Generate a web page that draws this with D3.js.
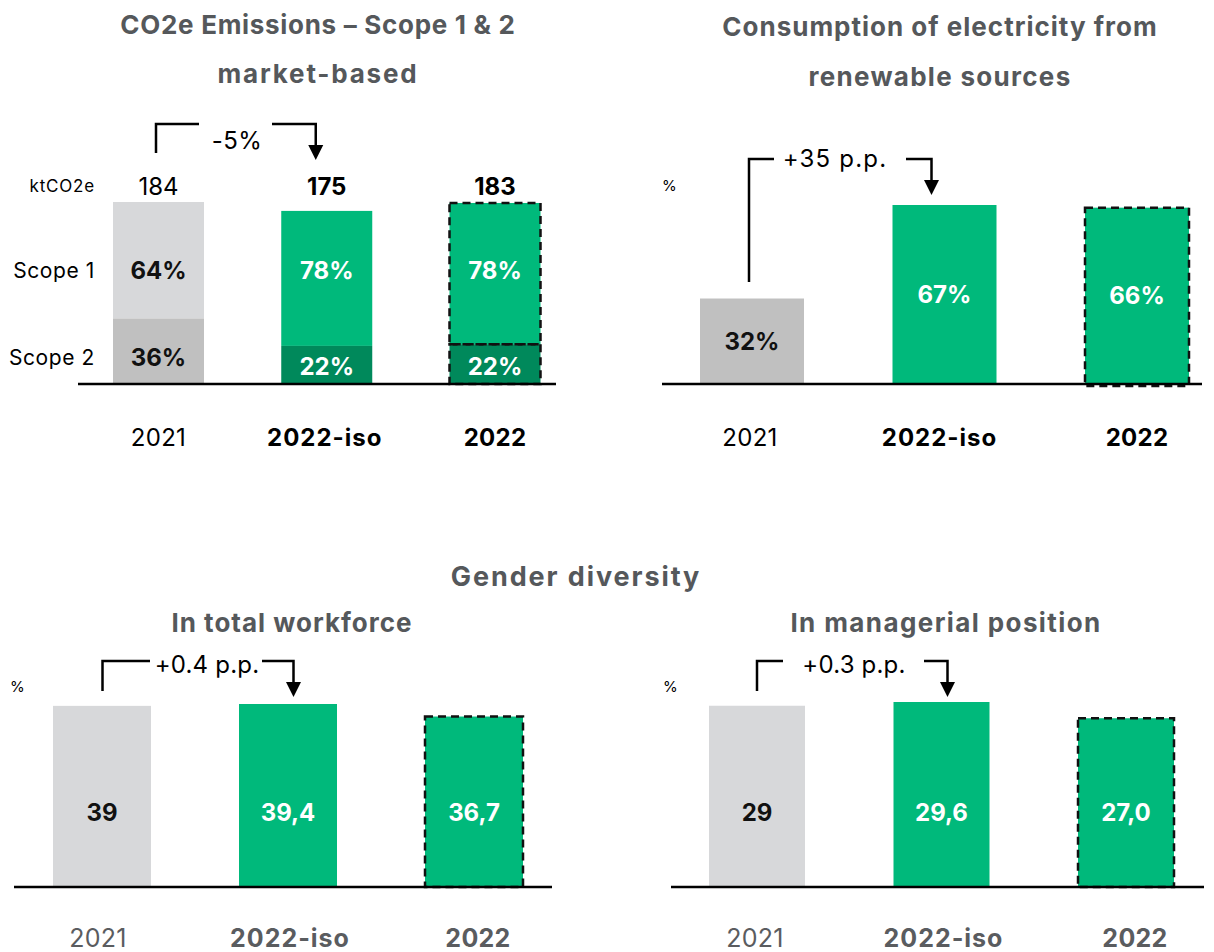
<!DOCTYPE html>
<html><head><meta charset="utf-8">
<script src="https://cdn.jsdelivr.net/npm/d3@7"></script>
<style>
body{margin:0;background:#fff}
svg{display:block}
text{font-family:Inter,"Open Sans",sans-serif}
</style>
</head><body>
<svg id="c" width="1214" height="952"></svg>
<script>
// ---------- data ----------
const categories = ["2021", "2022-iso", "2022"];
const emissionsTotal = [184, 175, 183];
const scope1Share = [64, 78, 78];
const scope2Share = [36, 22, 22];
const scopeNames = ["Scope 1", "Scope 2"];
const renewableShare = [32, 67, 66];
const workforceShare = [39, 39.4, 36.7];
const workforceLabels = ["39", "39,4", "36,7"];
const managerialShare = [29, 29.6, 27.0];
const managerialLabels = ["29", "29,6", "27,0"];
const deltaLabels = ["-5%", "+35 p.p.", "+0.4 p.p.", "+0.3 p.p."];
const titleEmissions = ["CO2e Emissions – Scope 1 & 2", "market-based"];
const titleRenewable = ["Consumption of electricity from", "renewable sources"];
const titleGender = "Gender diversity";
const subtitleGender = ["In total workforce", "In managerial position"];
const unitLabels = ["ktCO2e", "%"];

// ---------- styles ----------
const GREEN = "#00b97b", DGREEN = "#00895b", LGRAY = "#d7d8da", MGRAY = "#c0c0c0";
const TITLE = "#55585b", BOTTOMCAT = "#5a5c5f";
const svg = d3.select("#c");

function txt(x, y, s, o = {}) {
  return svg.append("text").attr("x", x).attr("y", y).text(s)
    .attr("text-anchor", o.anchor || "middle").attr("dominant-baseline", "central")
    .attr("font-size", o.size || 24).attr("font-weight", o.weight || 400)
    .attr("letter-spacing", o.ls || 0)
    .attr("fill", o.fill || "#000");
}

function dashedRect(x, y, w, h) {
  svg.append("rect").attr("x", x).attr("y", y).attr("width", w).attr("height", h)
    .attr("fill", "none").attr("stroke", "#111").attr("stroke-width", 2.5)
    .attr("stroke-dasharray", "8,5");
}

function bracket(x, a) {
  const xl = x(categories[a.from]) + a.dl, xr = x(categories[a.to]) + a.dr;
  const g = svg.append("g").attr("fill", "none").attr("stroke", "#000").attr("stroke-width", 2.5);
  g.append("path").attr("d", `M${xl},${a.lb}V${a.top}H${a.gl}`);
  g.append("path").attr("d", `M${a.gr},${a.top}H${xr}V${a.tip - 12}`);
  svg.append("path").attr("d", `M${xr - 7.5},${a.tip - 15}L${xr + 7.5},${a.tip - 15}L${xr},${a.tip}Z`).attr("fill", "#000");
  txt(a.tx, a.ty, a.label, {size: 24, ls: a.ls || 0.5});
}

// ---------- titles ----------
const T = {size: 26, weight: 700, fill: TITLE, ls: 1.2};
txt(318, 24, titleEmissions[0], {...T, ls: 0.7});
txt(318, 73, titleEmissions[1], {...T, ls: 1.8});
txt(940, 26, titleRenewable[0], {...T, ls: 1.0});
txt(940, 76, titleRenewable[1], {...T, ls: 1.3});
txt(576, 576, titleGender, {...T, size: 27, ls: 1.9});
txt(292, 622, subtitleGender[0], {...T, ls: 1.0});
txt(946, 622, subtitleGender[1], {...T, ls: 1.4});

// ---------- panel 1: emissions stacked ----------
(function () {
  const base = 384, bw = 91;
  const x = d3.scalePoint().domain(categories).range([158.5, 495]);
  const y = d3.scaleLinear().domain([0, 184]).range([base, 202]);
  const rowY = [270, 357];
  txt(95, 186, unitLabels[0], {size: 17, anchor: "end", ls: 0.8});
  scopeNames.forEach((s, i) => txt(95, rowY[i], s, {size: 21, anchor: "end", ls: 0.6}));
  categories.forEach((c, i) => {
    const cx = x(c), x0 = cx - bw / 2;
    const top = y(emissionsTotal[i]);
    const split = y(emissionsTotal[i] * scope2Share[i] / 100);
    const c1 = i === 0 ? LGRAY : GREEN, c2 = i === 0 ? MGRAY : DGREEN;
    svg.append("rect").attr("x", x0).attr("y", top).attr("width", bw).attr("height", split - top).attr("fill", c1);
    svg.append("rect").attr("x", x0).attr("y", split).attr("width", bw).attr("height", base - split).attr("fill", c2);
    if (c === "2022") {
      dashedRect(x0, top, bw, split - top);
      dashedRect(x0, split, bw, base - split);
    }
    const lf = i === 0 ? "#111" : "#fff";
    txt(cx, rowY[0], scope1Share[i] + "%", {weight: 700, fill: lf});
    txt(cx, i === 0 ? rowY[1] : (split + base) / 2 + 2, scope2Share[i] + "%", {weight: 700, fill: lf});
    txt(cx, 186, emissionsTotal[i], {weight: i === 0 ? 400 : 700});
    txt(cx + [0, -2, 0][i], 437, c, {weight: i === 0 ? 400 : 700, ls: i === 1 ? 1 : 0.3});
  });
  svg.append("line").attr("x1", 78).attr("x2", 556).attr("y1", base).attr("y2", base)
    .attr("stroke", "#000").attr("stroke-width", 2.5);
  bracket(x, {from: 0, to: 1, dl: -2.5, dr: -11, top: 124, lb: 153, tip: 160,
    gl: 199, gr: 272, tx: 237, ty: 140, label: deltaLabels[0]});
})();

// ---------- simple bar panels ----------
function barPanel(cfg) {
  const x = d3.scalePoint().domain(categories).range(cfg.xr);
  const y = d3.scaleLinear().domain([0, cfg.max]).range([cfg.base, cfg.top]);
  txt(cfg.unitX, cfg.unitY, unitLabels[1], {size: 15, anchor: "start"});
  categories.forEach((c, i) => {
    const cx = x(c), x0 = cx - cfg.bw / 2, t = y(cfg.values[i]);
    svg.append("rect").attr("x", x0).attr("y", t).attr("width", cfg.bw).attr("height", cfg.base - t)
      .attr("fill", i === 0 ? cfg.gray : GREEN);
    if (c === "2022") dashedRect(x0, t, cfg.bw, cfg.base - t + cfg.dashExtra);
    txt(cx, cfg.labelY ? cfg.labelY : (t + cfg.base) / 2, cfg.labels[i],
      {weight: 700, fill: i === 0 ? "#111" : "#fff"});
    txt(cx + cfg.catDx[i], cfg.catY, c, {weight: i === 0 ? 400 : 700, fill: cfg.catFill,
      size: cfg.catSize || 24, ls: i === 1 ? 1 : 0.3});
  });
  svg.append("line").attr("x1", cfg.lx[0]).attr("x2", cfg.lx[1]).attr("y1", cfg.base).attr("y2", cfg.base)
    .attr("stroke", "#000").attr("stroke-width", 2.5);
  bracket(x, cfg.br);
}

barPanel({
  xr: [752, 1137], bw: 104, base: 384, top: 205, max: 67, values: renewableShare,
  labels: renewableShare.map(v => v + "%"), gray: MGRAY, dashExtra: 2,
  unitX: 662, unitY: 185, lx: [662, 1202], catY: 437, catFill: "#000", catDx: [-2, -5, 0],
  br: {from: 0, to: 1, dl: -3, dr: -13, top: 159, lb: 282, tip: 195, gl: 774, gr: 906, tx: 835, ty: 158, label: deltaLabels[1], ls: 1.2}
});

barPanel({
  xr: [102, 474], bw: 98, base: 887, top: 704, max: 39.4, values: workforceShare,
  labels: workforceLabels, gray: LGRAY, dashExtra: 0, labelY: 812,
  unitX: 10, unitY: 686, lx: [14, 552], catY: 938, catFill: BOTTOMCAT, catDx: [-4, 2, 4], catSize: 25,
  br: {from: 0, to: 1, dl: 0.5, dr: 5.5, top: 661, lb: 691, tip: 697, gl: 150, gr: 262, tx: 207, ty: 664, label: deltaLabels[2], ls: 0.2}
});

barPanel({
  xr: [757, 1126], bw: 96, base: 887, top: 702, max: 29.6, values: managerialShare,
  labels: managerialLabels, gray: LGRAY, dashExtra: 0, labelY: 812,
  unitX: 663, unitY: 686, lx: [671, 1204], catY: 938, catFill: BOTTOMCAT, catDx: [-2, 2, 9], catSize: 25,
  br: {from: 0, to: 1, dl: 0, dr: 6, top: 661, lb: 691, tip: 697, gl: 783, gr: 924, tx: 854, ty: 664, label: deltaLabels[3], ls: 0.2}
});
</script>
</body></html>
